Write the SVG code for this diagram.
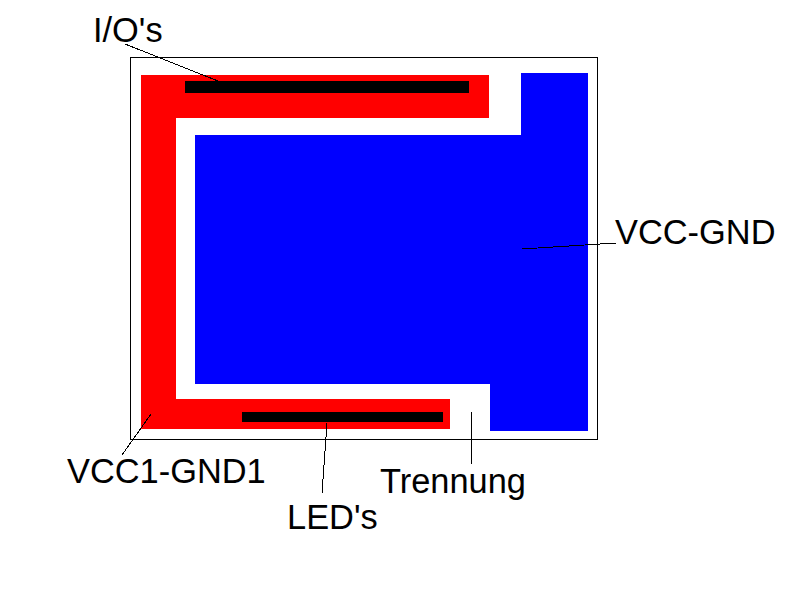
<svg xmlns="http://www.w3.org/2000/svg" width="800" height="600" viewBox="0 0 800 600">
<style>
text{font-family:"Liberation Sans",Arial,sans-serif;font-size:34.400px;fill:#000}
.red{fill:#f00}.blue{fill:#00f}.bar{fill:#000}
.ln{stroke:#000;stroke-width:1;fill:none;shape-rendering:crispEdges}
</style>
<rect width="800" height="600" fill="#fff"/>
<g id="frame"><rect x="130.500" y="57.500" width="467" height="382" fill="#fff" stroke="#000" stroke-width="1" shape-rendering="crispEdges"/></g>
<g id="vcc1-gnd1"><path class="red" d="M141 75H489V118H176V399H450V429H141Z"/></g>
<g id="vcc-gnd"><path class="blue" d="M195 135H521V73H588V431H490V384H195Z"/></g>
<g id="ios"><rect class="bar" x="185" y="81" width="284" height="12"/></g>
<g id="leds"><rect class="bar" x="242" y="412" width="201" height="10"/></g>
<g id="connectors">
<line class="ln" x1="125" y1="44" x2="218" y2="81"/>
<line class="ln" x1="151" y1="414" x2="122" y2="455"/>
<line class="ln" x1="327" y1="423" x2="322" y2="493"/>
<line class="ln" x1="472" y1="412" x2="471" y2="465"/>
<line class="ln" x1="522" y1="249" x2="616" y2="243"/>
</g>
<g id="labels">
<text x="93" y="42">I/O's</text>
<text x="615" y="244">VCC-GND</text>
<text x="67" y="483">VCC1-GND1</text>
<text x="380" y="493">Trennung</text>
<text x="287" y="529">LED's</text>
</g>
</svg>
